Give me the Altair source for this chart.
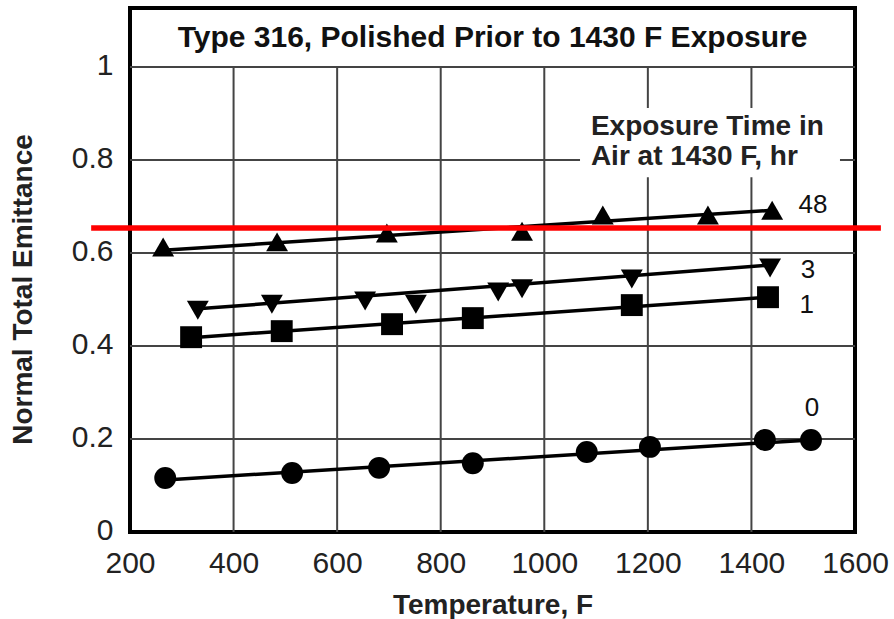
import altair as alt
import pandas as pd

# ---- data ----
series_names = ["0", "1", "3", "48"]
temps_0 = [268, 513, 681, 862, 1082, 1204, 1426, 1515]
emit_0 = [0.116, 0.127, 0.138, 0.148, 0.172, 0.183, 0.198, 0.198]
temps_1 = [318, 493, 706, 862, 1169, 1432]
emit_1 = [0.419, 0.432, 0.447, 0.460, 0.488, 0.505]
temps_3 = [331, 474, 654, 752, 911, 957, 1169, 1436]
emit_3 = [0.477, 0.490, 0.497, 0.490, 0.516, 0.523, 0.544, 0.568]
temps_48 = [264, 484, 696, 957, 1113, 1316, 1440]
emit_48 = [0.613, 0.624, 0.643, 0.647, 0.682, 0.682, 0.692]

# fitted straight lines (start/end)
fit_x_start = [268, 318, 331, 264]
fit_y_start = [0.112, 0.418, 0.480, 0.606]
fit_x_end = [1515, 1432, 1436, 1440]
fit_y_end = [0.198, 0.505, 0.574, 0.692]

label_x = [1517, 1507, 1509, 1519]
label_y = [0.267, 0.488, 0.563, 0.703]

x_ticks = [200, 400, 600, 800, 1000, 1200, 1400, 1600]
y_ticks = [0, 0.2, 0.4, 0.6, 0.8, 1.0]
x_grid = [400, 600, 800, 1000, 1200, 1400]
y_grid = [0.2, 0.4, 0.6, 0.8, 1.0]

chart_title = "Type 316, Polished Prior to 1430 F Exposure"
legend_lines = ["Exposure Time in", "Air at 1430 F, hr"]
legend_y = [0.871, 0.806]
legend_x = 1090
red_line_y = 0.654
red_line_x = [125, 1650]

X_DOM = [200, 1600]
Y_DOM = [0, 1.127]

# ---- tables ----
rows = []
for name, xs, ys in [("0", temps_0, emit_0), ("1", temps_1, emit_1),
                     ("3", temps_3, emit_3), ("48", temps_48, emit_48)]:
    for xv, yv in zip(xs, ys):
        rows.append({"series": name, "temp": xv, "emit": yv})
pts = pd.DataFrame(rows)

fit_rows = []
for i, name in enumerate(series_names):
    fit_rows.append({"series": name, "temp": fit_x_start[i], "emit": fit_y_start[i]})
    fit_rows.append({"series": name, "temp": fit_x_end[i], "emit": fit_y_end[i]})
fits = pd.DataFrame(fit_rows)

labels = pd.DataFrame({"series": series_names, "temp": label_x, "emit": label_y})

xs = alt.Scale(domain=X_DOM, nice=False, zero=False)
ys = alt.Scale(domain=Y_DOM, nice=False, zero=False)

FONT = "Liberation Sans"

# axis carrier (labels + titles)
axes = alt.Chart(pd.DataFrame({"temp": [200], "emit": [0]})).mark_point(opacity=0).encode(
    x=alt.X("temp:Q", scale=xs,
            axis=alt.Axis(values=x_ticks, format="d", grid=False, ticks=False, domain=False,
                          labelOverlap=False, labelFlush=False,
                          labelFont=FONT, labelFontSize=30, labelColor="#222",
                          labelPadding=16, title="Temperature, F", titleFont=FONT,
                          titleFontSize=28, titleFontWeight="bold", titleColor="#222",
                          titlePadding=13)),
    y=alt.Y("emit:Q", scale=ys,
            axis=alt.Axis(values=y_ticks, format="~g", grid=False, ticks=False, domain=False,
                          labelOverlap=False, labelFlush=False, labelOffset=-2,
                          labelFont=FONT, labelFontSize=30, labelColor="#222",
                          labelPadding=17, title="Normal Total Emittance", titleFont=FONT,
                          titleFontSize=28, titleFontWeight="bold", titleColor="#222",
                          titlePadding=34, titleY=281)),
)

hgrid = alt.Chart(pd.DataFrame({"emit": y_grid})).mark_rule(color="#444", strokeWidth=2).encode(
    y=alt.Y("emit:Q", scale=ys))

vgrid = alt.Chart(pd.DataFrame({"temp": x_grid})).mark_rule(color="#444", strokeWidth=2).encode(
    x=alt.X("temp:Q", scale=xs), y=alt.datum(0, scale=ys), y2=alt.datum(1.0))

legend_bg = alt.Chart(pd.DataFrame({"a": [0]})).mark_rect(color="white").encode(
    x=alt.datum(1069, scale=xs), x2=alt.datum(1571),
    y=alt.datum(0.763, scale=ys), y2=alt.datum(0.912))

lines = alt.Chart(fits).mark_line(color="black", strokeWidth=3.5).encode(
    x=alt.X("temp:Q", scale=xs), y=alt.Y("emit:Q", scale=ys), detail="series:N")

points = alt.Chart(pts).mark_point(filled=True, color="black", opacity=1, size=480).encode(
    x=alt.X("temp:Q", scale=xs), y=alt.Y("emit:Q", scale=ys),
    shape=alt.Shape("series:N", scale=alt.Scale(domain=series_names,
                    range=["circle", "square", "triangle-down", "triangle-up"]), legend=None))

series_text = alt.Chart(labels).mark_text(font=FONT, fontSize=26, color="#111",
                                          align="center", baseline="middle").encode(
    x=alt.X("temp:Q", scale=xs), y=alt.Y("emit:Q", scale=ys), text="series:N")

legend_text = alt.Chart(pd.DataFrame({"t": legend_lines, "emit": legend_y})).mark_text(
    font=FONT, fontSize=28, fontWeight="bold", color="#222", align="left",
    baseline="middle").encode(
    x=alt.datum(legend_x, scale=xs), y=alt.Y("emit:Q", scale=ys), text="t:N")

title_text = alt.Chart(pd.DataFrame({"t": [chart_title]})).mark_text(
    font=FONT, fontSize=30, fontWeight="bold", color="#111", align="center",
    baseline="middle").encode(
    x=alt.datum(900, scale=xs), y=alt.datum(1.062, scale=ys), text="t:N")

red = alt.Chart(pd.DataFrame({"a": [0]})).mark_rule(color="#ff0000", strokeWidth=5.5).encode(
    x=alt.datum(red_line_x[0], scale=xs), x2=alt.datum(red_line_x[1]),
    y=alt.datum(red_line_y, scale=ys))

chart = alt.layer(axes, hgrid, vgrid, legend_bg, lines, points, series_text,
                  legend_text, title_text, red).properties(
    width=725, height=524,
    autosize=alt.AutoSizeParams(type="none"),
    padding={"left": 130, "top": 8, "right": 39, "bottom": 87},
    background="white",
).configure_view(stroke="black", strokeWidth=4)

chart.save("out.html", embed_options={"renderer": "svg", "actions": False})
